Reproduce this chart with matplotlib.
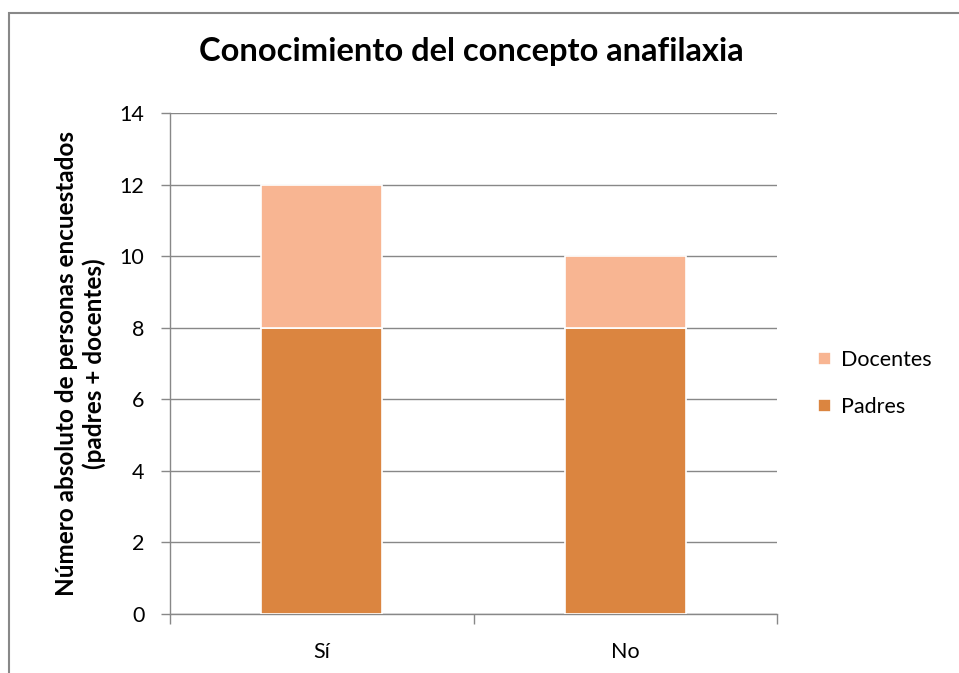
import numpy as np
import matplotlib.pyplot as plt
from matplotlib.patches import Rectangle

categories = ['Sí', 'No']
padres = [8, 8]
docentes = [4, 2]

plt.rcParams['font.family'] = ['Lato', 'DejaVu Sans']

fig = plt.figure(figsize=(9.59, 6.73), dpi=100)
ax = fig.add_axes([170 / 959, 1 - 614 / 673, 607 / 959, 501 / 673])

x = np.arange(len(categories))
c_padres = '#DB8540'
c_docentes = '#F8B592'
ax.bar(x, padres, width=0.4, color=c_padres, edgecolor='white', linewidth=1.2,
       label='Padres', zorder=3)
ax.bar(x, docentes, width=0.4, bottom=padres, color=c_docentes, edgecolor='white',
       linewidth=1.2, label='Docentes', zorder=3)

ax.set_xlim(-0.5, 1.5)
ax.set_ylim(0, 14)
ax.set_yticks(range(0, 15, 2))
ax.set_xticks(x)
ax.set_xticklabels(categories)
ax.set_xticks([-0.5, 0.5, 1.5], minor=True)
ax.tick_params(axis='x', which='major', length=0, pad=20, labelsize=15.5)
ax.tick_params(axis='x', which='minor', length=7, color='#888888', width=1)
ax.tick_params(axis='y', length=6.5, color='#888888', width=1, labelsize=15.5, pad=12)
ax.grid(axis='y', color='#888888', linewidth=1, zorder=0)
for side in ['top', 'right']:
    ax.spines[side].set_visible(False)
for side in ['left', 'bottom']:
    ax.spines[side].set_color('#888888')
    ax.spines[side].set_linewidth(1)

ax.set_ylabel('Número absoluto de personas encuestados\n(padres + docentes)',
              fontsize=17.5, fontweight='bold', labelpad=10, linespacing=1.2)
fig.text(471 / 959, 1 - 52 / 673, 'Conocimiento del concepto anafilaxia',
         ha='center', va='center', fontsize=23.5, fontweight='bold')

handles, labels = ax.get_legend_handles_labels()
ax.legend(handles[::-1], labels[::-1], loc='center left', bbox_to_anchor=(1.035, 0.46),
          frameon=False, fontsize=15.5, handlelength=0.6, handleheight=0.6,
          handletextpad=0.5, labelspacing=1.25)

fig.patches.append(Rectangle((9 / 959, -0.1), 1.1, 1 - 13 / 673 + 0.1,
                             transform=fig.transFigure, fill=False,
                             edgecolor='#888888', linewidth=1.5))

fig.savefig('out.png', dpi=100)
